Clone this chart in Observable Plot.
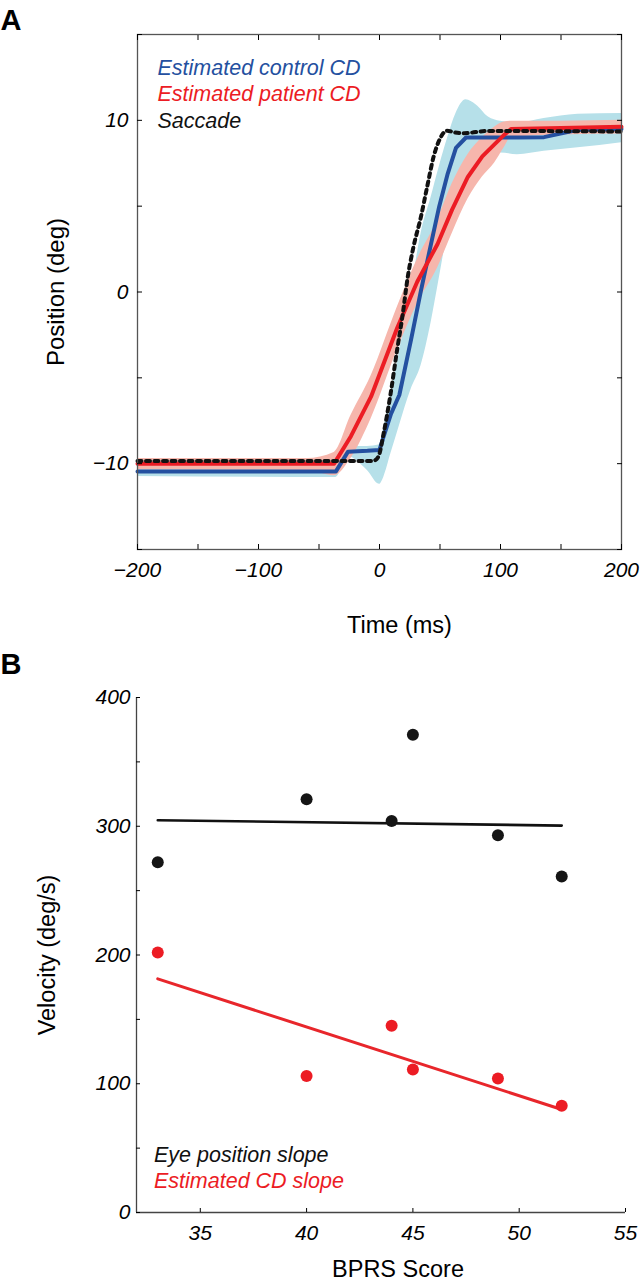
<!DOCTYPE html>
<html>
<head>
<meta charset="utf-8">
<script src="https://cdn.jsdelivr.net/npm/d3@7"></script>
<script src="https://cdn.jsdelivr.net/npm/@observablehq/plot@0.6"></script>
<style>
  html, body { margin: 0; padding: 0; background: #fff; }
  body { width: 641px; height: 1280px; overflow: hidden; position: relative;
         font-family: "Liberation Sans", Arial, Helvetica, sans-serif; }
  #panelA, #panelB { position: absolute; left: 0; }
  #panelA { top: 0; }
  #panelB { top: 650px; }
  svg { overflow: visible; }
</style>
</head>
<body>
<div id="panelA"></div>
<div id="panelB"></div>
<script>
// ---------- Panel A data ----------
const controlTime = [-200, -36, -26, -10, 0, 3.5, 9.5, 16.4, 26, 34.3, 42.6, 49.4, 56.4, 63.2, 71.5, 80, 90, 100, 114, 136, 164, 200];
const controlMean = [-10.45, -10.45, -9.3, -9.25, -9.2, -8.4, -7.1, -6.0, -2.8, 0.1, 2.8, 5.0, 6.9, 8.4, 9.0, 9.0, 9.0, 9.0, 9.0, 9.02, 9.45, 9.5];
const controlLo   = [-10.75, -10.8, -9.6, -10.4, -11.2, -10.8, -9.4, -7.8, -5.7, -4.3, -1.8, 0.8, 3.5, 5.5, 7.0, 7.6, 7.9, 8.1, 8.0, 8.2, 8.4, 8.7];
const controlHi   = [-10.15, -10.15, -9.0, -9.0, -8.9, -7.9, -5.9, -3.5, 0.0, 3.4, 5.5, 7.3, 9.0, 10.4, 11.2, 10.9, 10.2, 9.95, 9.85, 10.1, 10.35, 10.4];

const patientTime = [-200, -60, -37.5, -23.6, -7, 14.6, 31.2, 48, 60, 73, 85, 95, 103, 108.7, 150, 200];
const patientMean = [-10.0, -10.0, -10.0, -8.4, -6.1, -2.1, 0.6, 2.8, 4.8, 6.7, 7.9, 8.6, 9.15, 9.5, 9.55, 9.62];
const patientLo   = [-10.35, -10.4, -10.7, -9.7, -7.4, -3.4, -0.7, 1.4, 3.4, 5.4, 6.7, 7.5, 8.4, 9.0, 9.15, 9.2];
const patientHi   = [-9.7, -9.7, -9.35, -7.2, -4.9, -0.9, 1.9, 4.2, 6.3, 8.0, 9.0, 9.6, 9.9, 9.95, 9.95, 10.0];

const saccadeTime = [-200, -5.5, -1, 3.5, 9, 14.5, 19, 23.4, 28, 34.3, 39.3, 44.8, 50.2, 55.8, 62, 70, 89.4, 200];
const saccadePos  = [-9.85, -9.85, -9.6, -8.2, -6.0, -3.4, -1.4, 0.9, 2.6, 4.4, 6.1, 7.9, 8.96, 9.4, 9.3, 9.25, 9.38, 9.35];

const xTicksA = [-200, -150, -100, -50, 0, 50, 100, 150, 200];
const xLabelsA = [-200, -100, 0, 100, 200];
const yTicksA = [-15, -10, -5, 0, 5, 10, 15];
const yLabelsA = [-10, 0, 10];
const legendA = ["Estimated control CD", "Estimated patient CD", "Saccade"];

// ---------- Panel B data ----------
const bprs     = [33, 40, 44, 45, 49, 52];
const eyeSlope = [272, 321, 304, 371, 293, 261];
const cdSlope  = [202, 106, 145, 111, 104, 83];
const fitX     = [33, 52];
const eyeFitY  = [304.7, 300.5];
const cdFitY   = [181.5, 80];
const xTicksB  = [35, 40, 45, 50, 55];
const yTicksB  = [0, 50, 100, 150, 200, 250, 300, 350, 400];
const legendB  = ["Eye position slope", "Estimated CD slope"];

// ---------- styling ----------
const FONT = '"Liberation Sans", Arial, Helvetica, sans-serif';
const BLUE = "#2450a0", RED = "#ec1c24", BLACK = "#111111";
const BLUE_BAND = "#b6e0e9", RED_BAND = "#f6b6ac";
const minus = d => (d < 0 ? "\u2212" + Math.abs(d) : String(d));

const control = controlTime.map((t, i) => ({t, mean: controlMean[i], lo: controlLo[i], hi: controlHi[i]}));
const patient = patientTime.map((t, i) => ({t, mean: patientMean[i], lo: patientLo[i], hi: patientHi[i]}));
const saccade = saccadeTime.map((t, i) => ({t, pos: saccadePos[i]}));

const tickText = {fontSize: 21, fontStyle: "italic", fill: "#000"};

const plotA = Plot.plot({
  width: 641, height: 650,
  marginTop: 34, marginRight: 20, marginBottom: 101, marginLeft: 137,
  x: {domain: [-200, 200], label: null},
  y: {domain: [-15, 15], label: null},
  style: {fontFamily: FONT, background: "transparent", color: "#000"},
  marks: [
    Plot.areaY(control, {x: "t", y1: "lo", y2: "hi", fill: BLUE_BAND, curve: "monotone-x"}),
    Plot.areaY(patient, {x: "t", y1: "lo", y2: "hi", fill: RED_BAND, curve: "monotone-x"}),
    Plot.lineY(control, {x: "t", y: "mean", stroke: BLUE, strokeWidth: 4, strokeLinejoin: "round"}),
    Plot.lineY(patient, {x: "t", y: "mean", stroke: RED, strokeWidth: 4, strokeLinejoin: "round"}),
    Plot.lineY(saccade, {x: "t", y: "pos", stroke: BLACK, strokeWidth: 4, strokeDasharray: "4,4.5", curve: "monotone-x"}),
    Plot.frame({stroke: "#555", strokeWidth: 1.3}),
    Plot.axisX(xTicksA, {anchor: "bottom", tickSize: -5, tickPadding: 18, label: null,
      tickFormat: d => xLabelsA.includes(d) ? minus(d) : "", ...tickText}),
    Plot.axisX(xTicksA, {anchor: "top", tickSize: -5, label: null, tickFormat: () => ""}),
    Plot.axisY(yTicksA, {anchor: "left", tickSize: -5, tickPadding: 14, label: null,
      tickFormat: d => yLabelsA.includes(d) ? minus(d) : "", ...tickText}),
    Plot.axisY(yTicksA, {anchor: "right", tickSize: -5, label: null, tickFormat: () => ""}),
    Plot.text([legendA[0]], {text: d => d, frameAnchor: "top-left", dx: 20, dy: 40, textAnchor: "start", lineAnchor: "bottom", fontSize: 21.5, fontStyle: "italic", fill: BLUE}),
    Plot.text([legendA[1]], {text: d => d, frameAnchor: "top-left", dx: 20, dy: 66, textAnchor: "start", lineAnchor: "bottom", fontSize: 21.5, fontStyle: "italic", fill: RED}),
    Plot.text([legendA[2]], {text: d => d, frameAnchor: "top-left", dx: 20, dy: 93, textAnchor: "start", lineAnchor: "bottom", fontSize: 21.5, fontStyle: "italic", fill: BLACK}),
    Plot.text(["Time (ms)"], {text: d => d, frameAnchor: "bottom", dx: 20, dy: 83, lineAnchor: "bottom", fontSize: 23.5, fill: "#000"}),
    Plot.text(["Position (deg)"], {text: d => d, frameAnchor: "left", rotate: -90, dx: -74, dy: 0, lineAnchor: "bottom", textAnchor: "middle", fontSize: 24, fill: "#000"}),
    Plot.text(["A"], {text: d => d, frameAnchor: "top-left", dx: -137, dy: -5, textAnchor: "start", lineAnchor: "bottom", fontSize: 29, fontWeight: "bold", fill: "#000"})
  ]
});
document.getElementById("panelA").appendChild(plotA);

const eye = bprs.map((x, i) => ({x, y: eyeSlope[i]}));
const cd  = bprs.map((x, i) => ({x, y: cdSlope[i]}));
const eyeFit = fitX.map((x, i) => ({x, y: eyeFitY[i]}));
const cdFit  = fitX.map((x, i) => ({x, y: cdFitY[i]}));

const plotB = Plot.plot({
  width: 641, height: 630,
  marginTop: 47, marginRight: 16, marginBottom: 68, marginLeft: 136,
  x: {domain: [32, 55], label: null},
  y: {domain: [0, 400], label: null},
  style: {fontFamily: FONT, background: "transparent", color: "#000"},
  marks: [
    Plot.ruleX([32], {y1: 0, y2: 400, stroke: "#444", strokeWidth: 1.3}),
    Plot.ruleY([0], {x1: 32, x2: 55, stroke: "#444", strokeWidth: 1.3}),
    Plot.axisX(xTicksB, {anchor: "bottom", tickSize: -4, tickPadding: 17, label: null, tickFormat: d => String(d), ...tickText}),
    Plot.axisY(yTicksB, {anchor: "left", tickSize: -4, tickPadding: 10, label: null,
      tickFormat: d => d % 100 === 0 ? String(d) : "", ...tickText}),
    Plot.line(eyeFit, {x: "x", y: "y", stroke: BLACK, strokeWidth: 2.6}),
    Plot.line(cdFit, {x: "x", y: "y", stroke: "#e8262b", strokeWidth: 3}),
    Plot.dot(eye, {x: "x", y: "y", r: 6, fill: "#151515", stroke: "none"}),
    Plot.dot(cd, {x: "x", y: "y", r: 6, fill: RED, stroke: "none"}),
    Plot.text([legendB[0]], {text: d => d, frameAnchor: "top-left", dx: 17.5, dy: 464, textAnchor: "start", lineAnchor: "bottom", fontSize: 21.5, fontStyle: "italic", fill: BLACK}),
    Plot.text([legendB[1]], {text: d => d, frameAnchor: "top-left", dx: 17.5, dy: 490, textAnchor: "start", lineAnchor: "bottom", fontSize: 21.5, fontStyle: "italic", fill: RED}),
    Plot.text(["BPRS Score"], {text: d => d, frameAnchor: "bottom", dx: 17, dy: 64, lineAnchor: "bottom", fontSize: 23.5, fill: "#000"}),
    Plot.text(["Velocity (deg/s)"], {text: d => d, frameAnchor: "left", rotate: -90, dx: -82, dy: 0, lineAnchor: "bottom", textAnchor: "middle", fontSize: 23.5, fill: "#000"}),
    Plot.text(["B"], {text: d => d, frameAnchor: "top-left", dx: -136, dy: -24, textAnchor: "start", lineAnchor: "bottom", fontSize: 29, fontWeight: "bold", fill: "#000"})
  ]
});
document.getElementById("panelB").appendChild(plotB);
</script>
</body>
</html>
